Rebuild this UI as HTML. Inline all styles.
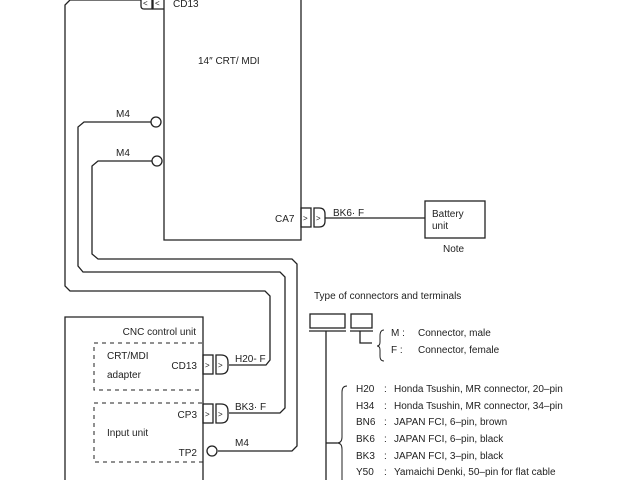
<!DOCTYPE html>
<html><head><style>body{margin:0;background:#fff}svg{display:block}text{font-family:"Liberation Sans",sans-serif;font-size:10px;fill:#222}</style></head><body>
<svg width="640" height="480" viewBox="0 0 640 480" xmlns="http://www.w3.org/2000/svg">
<g fill="none" stroke="#222" stroke-width="1.3">
<path d="M164,0 V240 H301 V0"/>
<path d="M141,0 V6 q0,3 3,3 H152 V0"/>
<path d="M153,0 V9 H164"/>
<path d="M141,0 H70 L65,5 V286 L70,291 H265 L270,296 V360 L266,365 H229"/>
<circle cx="156" cy="122" r="5"/>
<path d="M151,122 H84 L78,127 V266 L83,272 H280 L285,277 V408 L280,413 H229"/>
<circle cx="157" cy="161" r="5"/>
<path d="M152,161 H98 L92,166 V254 L98,259 H292 L297,264 V446 L292,451 H218"/>
<circle cx="212" cy="451" r="5"/>
<path d="M65,480 V317 H203 V480"/>
<rect x="94" y="343" width="109" height="47" stroke-dasharray="4,4" stroke-width="1"/>
<rect x="94" y="403" width="109" height="59" stroke-dasharray="4,4" stroke-width="1"/>
<rect x="203" y="355" width="10" height="19"/>
<path d="M216,355 H221 Q228,355 228,362 V367 Q228,374 221,374 H216 Z"/>
<rect x="203" y="404" width="10" height="19"/>
<path d="M216,404 H221 Q228,404 228,411 V416 Q228,423 221,423 H216 Z"/>
<rect x="301" y="208" width="10" height="19"/>
<path d="M314,208 H319 Q325,208 325,214 V221 Q325,227 319,227 H314 Z"/>
<path d="M325,218 H425"/>
<rect x="425" y="201" width="60" height="37"/>
<rect x="310" y="314" width="35" height="14"/>
<path d="M309,331 H346"/>
<rect x="351" y="314" width="21" height="14"/>
<path d="M350,331 H373"/>
<path d="M326,331 V480"/>
<path d="M360,331 V343 H372"/>
<path d="M384,330 Q380,330 380,336 V342 Q380,346 377,346 Q380,346 380,350 V356 Q380,361 384,361" stroke-width="1"/>
<path d="M326,443 H337"/>
<path d="M347,386 Q342,386 342,392 V437 Q342,443 337,443 Q342,443 342,449 V480" stroke-width="1"/>
</g>
<g>
<text x="205" y="368" style="font-size:8px">&gt;</text><text x="218" y="368" style="font-size:8px">&gt;</text>
<text x="205" y="417" style="font-size:8px">&gt;</text><text x="218" y="417" style="font-size:8px">&gt;</text>
<text x="303" y="221" style="font-size:8px">&gt;</text><text x="316" y="221" style="font-size:8px">&gt;</text>
<text x="143" y="6" style="font-size:8px">&lt;</text><text x="155" y="6" style="font-size:8px">&lt;</text>
</g>
<text x="173" y="7">CD13</text>
<text x="198" y="64">14″ CRT/ MDI</text>
<text x="116" y="117">M4</text>
<text x="116" y="156">M4</text>
<text x="275" y="222">CA7</text>
<text x="333" y="216">BK6· F</text>
<text x="432" y="217">Battery</text>
<text x="432" y="229">unit</text>
<text x="443" y="252">Note</text>
<text x="196" y="335" text-anchor="end">CNC control unit</text>
<text x="107" y="359">CRT/MDI</text>
<text x="107" y="378">adapter</text>
<text x="197" y="369" text-anchor="end">CD13</text>
<text x="235" y="362">H20- F</text>
<text x="197" y="418" text-anchor="end">CP3</text>
<text x="235" y="410">BK3· F</text>
<text x="107" y="436">Input unit</text>
<text x="197" y="456" text-anchor="end">TP2</text>
<text x="235" y="446">M4</text>
<text x="314" y="299">Type of connectors and terminals</text>
<text x="391" y="336">M :</text><text x="418" y="336">Connector, male</text>
<text x="391" y="353">F :</text><text x="418" y="353">Connector, female</text>
<g>
<text x="356" y="392">H20</text><text x="384" y="392">:</text><text x="394" y="392">Honda Tsushin, MR connector, 20–pin</text>
<text x="356" y="409">H34</text><text x="384" y="409">:</text><text x="394" y="409">Honda Tsushin, MR connector, 34–pin</text>
<text x="356" y="425">BN6</text><text x="384" y="425">:</text><text x="394" y="425">JAPAN FCI, 6–pin, brown</text>
<text x="356" y="442">BK6</text><text x="384" y="442">:</text><text x="394" y="442">JAPAN FCI, 6–pin, black</text>
<text x="356" y="459">BK3</text><text x="384" y="459">:</text><text x="394" y="459">JAPAN FCI, 3–pin, black</text>
<text x="356" y="475">Y50</text><text x="384" y="475">:</text><text x="394" y="475">Yamaichi Denki, 50–pin for flat cable</text>
</g>
</svg>
</body></html>
